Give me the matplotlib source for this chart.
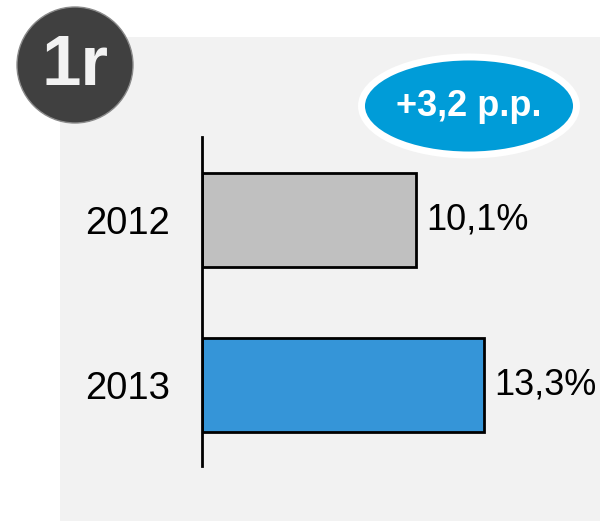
import matplotlib.pyplot as plt
from matplotlib.patches import Rectangle, Circle, Ellipse

years = ['2012', '2013']
shares = [10.1, 13.3]
bar_colors = ['#C0C0C0', '#3595D8']
badge_text = '1r'
delta_text = '+3,2 p.p.'

plt.rcParams['font.family'] = ['Liberation Sans', 'DejaVu Sans']

W, H = 600, 521
fig = plt.figure(figsize=(W / 100, H / 100), dpi=100)
fig.patch.set_facecolor('white')

# overlay in pixel coordinates for the decorations
deco = fig.add_axes([0, 0, 1, 1], zorder=0)
deco.set_xlim(0, W)
deco.set_ylim(H, 0)
deco.axis('off')
deco.add_patch(Rectangle((60, 37), W - 60, H - 37, facecolor='#F2F2F2', edgecolor='none'))

# bar chart
ax = fig.add_axes([202 / W, (H - 466) / H, (W - 202) / W, 329 / H], zorder=1)
ax.patch.set_alpha(0)
pos = list(range(len(years)))
bars = ax.barh(pos, shares, height=0.565, color=bar_colors, edgecolor='black', linewidth=2)
ax.set_xlim(0, (W - 202) / 21.2)
ax.set_ylim(1.49, -0.503)
ax.set_yticks(pos)
ax.set_yticklabels(years, fontsize=27.5)
ax.tick_params(axis='y', length=0, pad=23)
ax.set_xticks([])
for side in ['top', 'right', 'bottom']:
    ax.spines[side].set_visible(False)
ax.spines['left'].set_linewidth(2)

for bar, v in zip(bars, shares):
    ax.annotate(f'{v:.1f}%'.replace('.', ','),
                xy=(bar.get_width(), bar.get_y() + bar.get_height() / 2),
                xytext=(7.5, 0), textcoords='offset points',
                ha='left', va='center', fontsize=26)

# badges on top
top = fig.add_axes([0, 0, 1, 1], zorder=2)
top.set_xlim(0, W)
top.set_ylim(H, 0)
top.axis('off')
top.patch.set_alpha(0)
top.add_patch(Circle((75, 65), 58, facecolor='#404040', edgecolor='#8a8a8a', linewidth=1))
top.text(75, 67, badge_text, ha='center', va='center', fontsize=51,
         fontweight='bold', color='#F2F2F2')
top.add_patch(Ellipse((469, 106), 215, 98, facecolor='#009CD8', edgecolor='white', linewidth=5))
top.text(469, 107, delta_text, ha='center', va='center', fontsize=26,
         fontweight='bold', color='white')

plt.savefig('out.png', dpi=100)
plt.close()
